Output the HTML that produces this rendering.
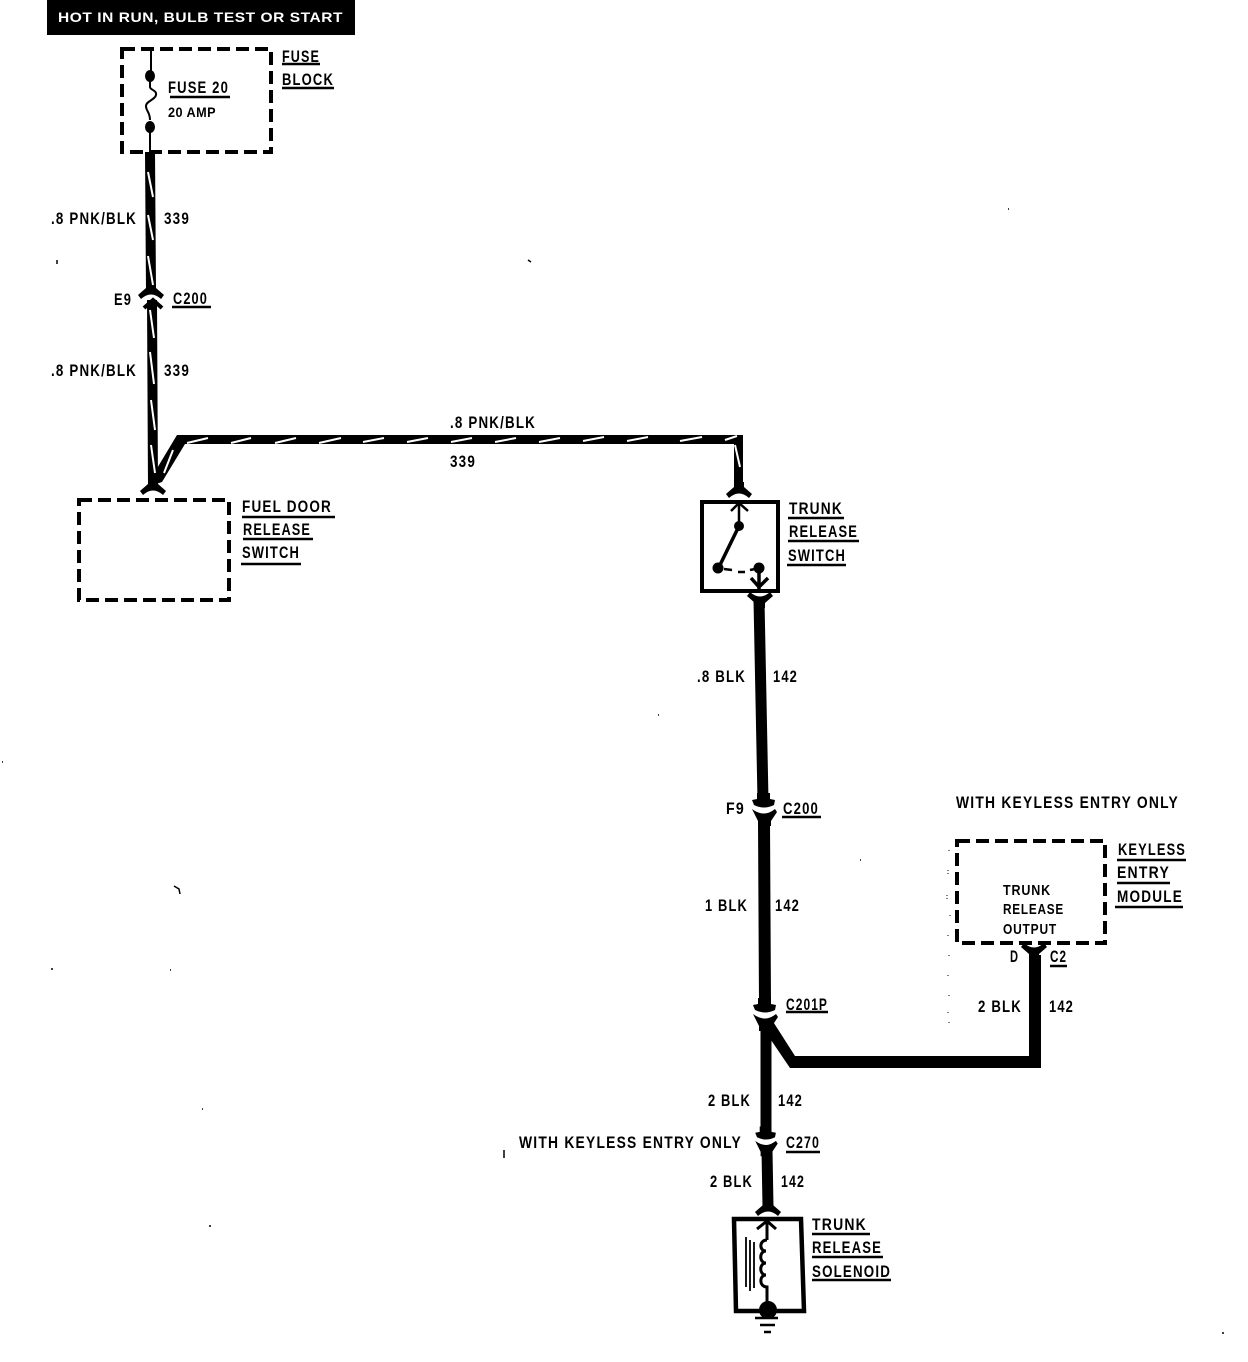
<!DOCTYPE html>
<html>
<head>
<meta charset="utf-8">
<style>
html,body{margin:0;padding:0;background:#fff}
svg{display:block}
text{font-family:"Liberation Sans",sans-serif;font-weight:bold;fill:#000;font-size:17px;letter-spacing:1.5px}
.s{font-size:15px;letter-spacing:1px}
.a{font-size:14px;letter-spacing:.5px}
.h{font-size:14px;fill:#fff;letter-spacing:.5px}
</style>
</head>
<body>
<svg xmlns="http://www.w3.org/2000/svg" width="1248" height="1362" viewBox="0 0 1248 1362">
<defs>
<path id="fork" d="M-5 -8H5V-3L13 4L10 8Q0 -1 -10 8L-13 4L-5 -3Z"/>
<g id="conn">
<path d="M-7 -15H6V-9L11 -8L10 -3Q0 2 -10 -3L-12 -8L-7 -9Z"/>
<path d="M-12 1Q0 10 11 1L13 4L7 13V18H-6V13Z"/>
</g>
</defs>
<rect width="1248" height="1362" fill="#fff"/>
<!-- header -->
<rect x="47" y="0" width="308" height="35" fill="#000"/>
<text class="h" x="58" y="22" textLength="285" lengthAdjust="spacingAndGlyphs">HOT IN RUN, BULB TEST OR START</text>

<!-- dashed boxes -->
<g fill="none" stroke="#000" stroke-width="4" stroke-dasharray="13 6">
<rect x="122" y="49" width="149" height="103"/>
<rect x="79" y="500" width="150" height="100"/>
<rect x="957" y="841" width="148" height="102"/>
</g>

<!-- fuse -->
<path d="M151 49V73" stroke="#000" stroke-width="2" fill="none"/>
<ellipse cx="150" cy="76" rx="5" ry="6"/>
<path d="M150 80V87C150 90 157 90 156 95C155 100 146 101 146 106C146 111 150 112 150 120" stroke="#000" stroke-width="2" fill="none"/>
<ellipse cx="150" cy="127" rx="5" ry="6"/>
<path d="M150 130V152" stroke="#000" stroke-width="2" fill="none"/>

<!-- pink/black wire -->
<path d="M150 152L151 290" stroke="#000" stroke-width="10" fill="none"/>
<path d="M152 300L153 488" stroke="#000" stroke-width="10" fill="none"/>
<path d="M177 435H743V444H185L162 482L150 486L156 470Z"/>
<path d="M734 440H743V490H734Z"/>
<use href="#fork" x="153" y="487"/>
<use href="#fork" x="151" y="291"/>
<path d="M144 308L153 300L162 308" stroke="#000" stroke-width="4" fill="none"/>
<path d="M148 172l5 25M148 215l5 25M148 256l5 29M150 310l4 28M150 352l4 32M151 400l4 30M151 445l4 28M173 450l-9 23" stroke="#fff" stroke-width="2" fill="none"/>
<path d="M187 443l21-5M231 443l20-5M275 443l21-5M319 443l22-5M363 442l21-4M407 442l21-4M451 442l21-4M495 442l21-4M539 442l21-4M583 441l21-4M627 441l21-4M680 441l22-4M725 440l12-4M735 445l5 22" stroke="#fff" stroke-width="2" fill="none"/>

<!-- trunk switch -->
<use href="#fork" x="739" y="490"/>
<rect x="702" y="502" width="76" height="89" fill="none" stroke="#000" stroke-width="4"/>
<path d="M731 511L739 503L748 511M739 503V524" stroke="#000" stroke-width="2.5" fill="none"/>
<circle cx="739" cy="526" r="5"/>
<path d="M739 526L719 567" stroke="#000" stroke-width="3.5" fill="none"/>
<circle cx="718" cy="568" r="5.5"/>
<path d="M724 569L732 570M738 572H745M750 570L755 569" stroke="#000" stroke-width="2.5" fill="none"/>
<circle cx="759" cy="568" r="5.5"/>
<path d="M759 568V589M751 578L759 587L768 578" stroke="#000" stroke-width="3.5" fill="none"/>

<!-- black wire -->
<use href="#fork" transform="translate(760 600) scale(1 -1)"/>
<path d="M759 600L763 800" stroke="#000" stroke-width="11" fill="none"/>
<use href="#conn" x="764" y="808"/>
<path d="M764 822L765 1005" stroke="#000" stroke-width="12" fill="none"/>
<use href="#conn" x="765" y="1013"/>
<path d="M766 1026V1132" stroke="#000" stroke-width="11" fill="none"/>
<path d="M772 1020L795 1056H1029V955H1041V1068H790L771 1040Z"/>
<g transform="translate(766 1140) scale(.9)"><use href="#conn"/></g>
<path d="M767 1150L768 1207" stroke="#000" stroke-width="11" fill="none"/>
<use href="#fork" x="768" y="1208"/>
<use href="#fork" transform="translate(1034 951) scale(1 -1)"/>

<!-- solenoid -->
<path d="M734 1219H801L804 1311H736Z" fill="none" stroke="#000" stroke-width="4.5"/>
<path d="M757 1229L767 1221L776 1229M767 1221V1240" stroke="#000" stroke-width="3" fill="none"/>
<path d="M767 1240C759 1240 759 1251 766 1251C759 1251 759 1263 766 1263C759 1263 759 1275 766 1275C759 1275 759 1287 767 1287V1303" stroke="#000" stroke-width="3" fill="none"/>
<path d="M746 1237V1287M750 1240V1291M754 1242V1288" stroke="#000" stroke-width="1.8" fill="none"/>
<circle cx="768" cy="1310" r="9"/>
<path d="M755 1318H778M760 1325H775M764 1332H771" stroke="#000" stroke-width="2.5" fill="none"/>

<!-- underlines -->
<path d="M282 64H320M282 88H334M170 97H230M172 307H211M242 517H335M243 539H313M241 564H301M788 518H844M788 541H859M787 565H846M782 817H821M786 1012H828M1117 860H1186M1117 883H1170M1115 907H1183M1050 966H1067M786 1152H820M812 1234H870M812 1257H883M812 1280H891" stroke="#000" stroke-width="2.5" fill="none"/>

<!-- labels -->
<text x="282" y="62" textLength="38" lengthAdjust="spacingAndGlyphs">FUSE</text>
<text x="282" y="85" textLength="52" lengthAdjust="spacingAndGlyphs">BLOCK</text>
<text x="168" y="93" textLength="61" lengthAdjust="spacingAndGlyphs">FUSE 20</text>
<text class="a" x="168" y="117" textLength="48" lengthAdjust="spacingAndGlyphs">20 AMP</text>
<text x="51" y="224" textLength="86" lengthAdjust="spacingAndGlyphs">.8 PNK/BLK</text>
<text x="164" y="224" textLength="26" lengthAdjust="spacingAndGlyphs">339</text>
<text x="114" y="305" textLength="18" lengthAdjust="spacingAndGlyphs">E9</text>
<text x="173" y="304" textLength="35" lengthAdjust="spacingAndGlyphs">C200</text>
<text x="51" y="376" textLength="86" lengthAdjust="spacingAndGlyphs">.8 PNK/BLK</text>
<text x="164" y="376" textLength="26" lengthAdjust="spacingAndGlyphs">339</text>
<text x="450" y="428" textLength="86" lengthAdjust="spacingAndGlyphs">.8 PNK/BLK</text>
<text x="450" y="467" textLength="26" lengthAdjust="spacingAndGlyphs">339</text>
<text x="242" y="512" textLength="90" lengthAdjust="spacingAndGlyphs">FUEL DOOR</text>
<text x="243" y="535" textLength="68" lengthAdjust="spacingAndGlyphs">RELEASE</text>
<text x="242" y="558" textLength="58" lengthAdjust="spacingAndGlyphs">SWITCH</text>
<text x="789" y="514" textLength="54" lengthAdjust="spacingAndGlyphs">TRUNK</text>
<text x="789" y="537" textLength="69" lengthAdjust="spacingAndGlyphs">RELEASE</text>
<text x="788" y="561" textLength="58" lengthAdjust="spacingAndGlyphs">SWITCH</text>
<text x="697" y="682" textLength="49" lengthAdjust="spacingAndGlyphs">.8 BLK</text>
<text x="773" y="682" textLength="25" lengthAdjust="spacingAndGlyphs">142</text>
<text x="726" y="814" textLength="19" lengthAdjust="spacingAndGlyphs">F9</text>
<text x="783" y="814" textLength="36" lengthAdjust="spacingAndGlyphs">C200</text>
<text x="705" y="911" textLength="43" lengthAdjust="spacingAndGlyphs">1 BLK</text>
<text x="775" y="911" textLength="25" lengthAdjust="spacingAndGlyphs">142</text>
<text x="786" y="1010" textLength="42" lengthAdjust="spacingAndGlyphs">C201P</text>
<text x="956" y="808" textLength="223" lengthAdjust="spacingAndGlyphs">WITH KEYLESS ENTRY ONLY</text>
<text x="1118" y="855" textLength="68" lengthAdjust="spacingAndGlyphs">KEYLESS</text>
<text x="1117" y="878" textLength="53" lengthAdjust="spacingAndGlyphs">ENTRY</text>
<text x="1117" y="902" textLength="66" lengthAdjust="spacingAndGlyphs">MODULE</text>
<text class="s" x="1003" y="895" textLength="48" lengthAdjust="spacingAndGlyphs">TRUNK</text>
<text class="s" x="1003" y="914" textLength="61" lengthAdjust="spacingAndGlyphs">RELEASE</text>
<text class="s" x="1003" y="934" textLength="54" lengthAdjust="spacingAndGlyphs">OUTPUT</text>
<text x="1010" y="962" textLength="9" lengthAdjust="spacingAndGlyphs">D</text>
<text x="1050" y="962" textLength="17" lengthAdjust="spacingAndGlyphs">C2</text>
<text x="978" y="1012" textLength="44" lengthAdjust="spacingAndGlyphs">2 BLK</text>
<text x="1049" y="1012" textLength="25" lengthAdjust="spacingAndGlyphs">142</text>
<text x="708" y="1106" textLength="43" lengthAdjust="spacingAndGlyphs">2 BLK</text>
<text x="778" y="1106" textLength="25" lengthAdjust="spacingAndGlyphs">142</text>
<text x="519" y="1148" textLength="223" lengthAdjust="spacingAndGlyphs">WITH KEYLESS ENTRY ONLY</text>
<text x="786" y="1148" textLength="34" lengthAdjust="spacingAndGlyphs">C270</text>
<text x="710" y="1187" textLength="43" lengthAdjust="spacingAndGlyphs">2 BLK</text>
<text x="781" y="1187" textLength="24" lengthAdjust="spacingAndGlyphs">142</text>
<text x="812" y="1230" textLength="55" lengthAdjust="spacingAndGlyphs">TRUNK</text>
<text x="812" y="1253" textLength="70" lengthAdjust="spacingAndGlyphs">RELEASE</text>
<text x="812" y="1277" textLength="79" lengthAdjust="spacingAndGlyphs">SOLENOID</text>

<!-- specks -->
<path d="M57 260v4M528 260l3 2M1008 209h1M658 715h1M2 762h1M860 860h1M52 968v2M170 970h1M202 1109h1M209 1226h2M504 1150v8M1223 1332v2M174 886l5 3l1 5" stroke="#000" stroke-width="1.5" fill="none"/>
<path d="M949 850v3M948 870v4M947 895v4M950 915v3M948 935v3M949 955v3M948 975v3M949 995v3M948 1012v3M949 1022v2" stroke="#000" stroke-width="1" fill="none" stroke-dasharray="1 2"/>
</svg>
</body>
</html>
